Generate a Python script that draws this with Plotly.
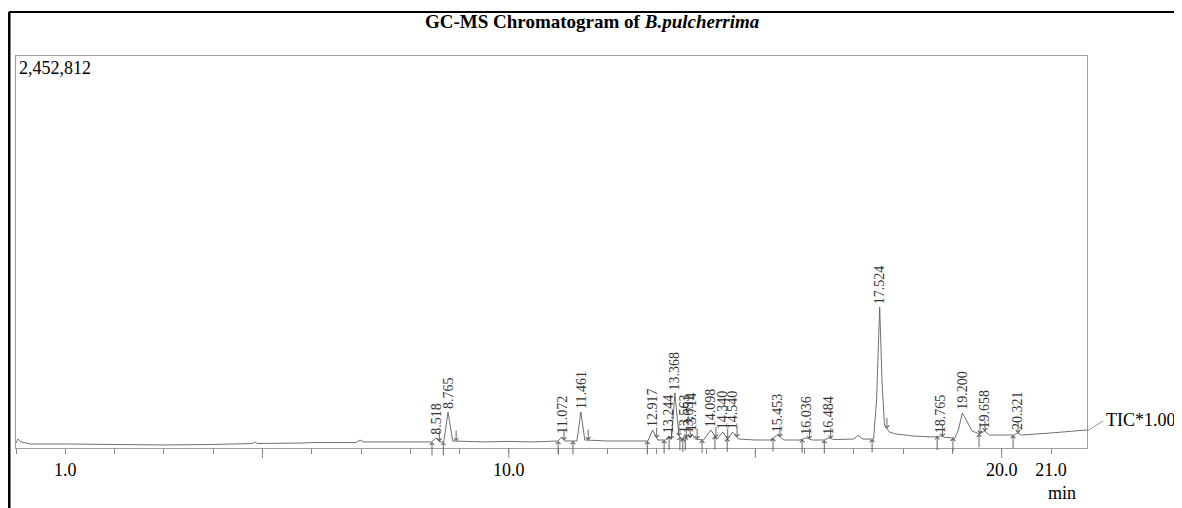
import numpy as np
import plotly.graph_objects as go

# ---------------- data ----------------
TIME = [0.00, 0.04, 0.10, 0.30, 1.0, 2.0, 3.0, 4.0, 4.80, 4.85, 4.90, 5.8, 6.0, 6.9, 6.98, 7.05,
        8.0, 8.44, 8.52, 8.60, 8.68, 8.765, 8.86, 9.5, 10.0, 10.5, 11.0, 11.07, 11.13, 11.38,
        11.461, 11.54, 12.0, 12.5, 12.82, 12.917, 13.02, 13.18, 13.244, 13.30, 13.368, 13.45,
        13.52, 13.563, 13.61, 13.651, 13.68, 13.714, 13.78, 13.95, 14.098, 14.22, 14.34, 14.44,
        14.54, 14.66, 15.0, 15.3, 15.453, 15.58, 15.9, 16.036, 16.15, 16.40, 16.484, 16.60,
        17.0, 17.08, 17.18, 17.40, 17.46, 17.524, 17.57, 17.62, 17.72, 17.85, 18.2, 18.6,
        18.765, 18.85, 19.05, 19.12, 19.20, 19.28, 19.40, 19.55, 19.658, 19.75, 20.0, 20.25,
        20.321, 20.40, 21.0, 21.73]
INTENSITY = [31000, 56000, 38000, 25000, 25000, 22000, 19000, 22000, 28000, 38000, 28000, 31000,
             34000, 34000, 50000, 38000, 38000, 38000, 63000, 38000, 38000, 225000, 44000, 38000,
             41000, 38000, 44000, 69000, 44000, 44000, 225000, 50000, 44000, 44000, 44000, 113000,
             50000, 50000, 75000, 56000, 344000, 75000, 56000, 75000, 63000, 75000, 63000, 88000,
             56000, 50000, 113000, 56000, 100000, 56000, 100000, 56000, 50000, 50000, 81000, 50000,
             50000, 63000, 50000, 50000, 63000, 53000, 56000, 80000, 56000, 56000, 300000, 882000,
             425000, 144000, 100000, 88000, 75000, 69000, 75000, 66000, 63000, 113000, 219000,
             175000, 106000, 88000, 106000, 81000, 81000, 81000, 94000, 81000, 94000, 113000]

PEAK_RT = [8.518, 8.765, 11.072, 11.461, 12.917, 13.244, 13.368, 13.563, 13.651, 13.714,
           14.098, 14.340, 14.540, 15.453, 16.036, 16.484, 17.524, 18.765, 19.200, 19.658, 20.321]
PEAK_LABEL = ["8.518", "8.765", "11.072", "11.461", "12.917", "13.244", "13.368", "13.563",
              "13.651", "13.714", "14.098", "14.340", "14.540", "15.453", "16.036", "16.484",
              "17.524", "18.765", "19.200", "19.658", "20.321"]
PEAK_START = [8.44, 8.67, 11.00, 11.30, 12.81, 13.15, 13.25, 13.47, 13.53, 13.58,
              13.92, 14.18, 14.43, 15.36, 15.95, 16.40, 17.37, 18.69, 19.01, 19.54, 20.23]
PEAK_END = [8.59, 8.93, 11.12, 11.61, 13.00, 13.30, 13.45, 13.60, 13.68, 13.82,
            14.20, 14.44, 14.63, 15.50, 16.10, 16.53, 17.67, 18.80, 19.56, 19.66, 20.33]

Y_MAX = 2452812
X_RANGE = [0.0, 21.73]
TICK_VALS = [1, 5, 10, 15, 20, 21]
TICK_TEXT = ["1.0", "", "10.0", "", "20.0", "21.0"]
LONG_TICKS = [5, 10, 15, 20]

FONT = "Liberation Serif"

# ---------------- figure ----------------
OFF = 8                      # page body margin of the html page
W, H = 1182 - OFF, 508 - OFF
ML, MR, MT, MB = 16 - OFF, 95, 56 - OFF, 60
PW, PH = W - ML - MR, H - MT - MB


def px(xp):  # page pixel -> paper
    return (xp - OFF - ML) / PW


def py(yp):  # page pixel -> paper
    return (H - MB - (yp - OFF)) / PH


fig = go.Figure()
fig.add_trace(go.Scatter(x=TIME, y=INTENSITY, mode="lines",
                         line=dict(color="#606060", width=0.9), hoverinfo="skip",
                         showlegend=False))

ann = []
tip = np.interp(PEAK_RT, TIME, INTENSITY)
for rt, lab, h in zip(PEAK_RT, PEAK_LABEL, tip):
    ann.append(dict(x=rt, y=h, xref="x", yref="y", text=lab, showarrow=False,
                    textangle=-90, xanchor="center", yanchor="bottom", yshift=1,
                    font=dict(family=FONT, size=14, color="#333333")))

start_y = np.interp(PEAK_START, TIME, INTENSITY)
for xs, ys in zip(PEAK_START, start_y):
    ann.append(dict(x=xs, y=ys, xref="x", yref="y", text="", showarrow=True,
                    ax=0, ay=15, arrowhead=4, arrowsize=1, arrowwidth=0.9,
                    arrowcolor="#555555"))
end_y = np.interp(PEAK_END, TIME, INTENSITY)
for xe, ye in zip(PEAK_END, end_y):
    ann.append(dict(x=xe, y=ye, xref="x", yref="y", text="", showarrow=True,
                    ax=0, ay=-12, arrowhead=4, arrowsize=1, arrowwidth=0.9,
                    arrowcolor="#555555"))

# text labels
ann.append(dict(x=px(17), y=py(68), xref="paper", yref="paper", text=f"{Y_MAX:,}",
                showarrow=False, xanchor="left", yanchor="middle",
                font=dict(family=FONT, size=18, color="black")))
ann.append(dict(x=px(1104), y=py(420), xref="paper", yref="paper", text="TIC*1.00",
                showarrow=False, xanchor="left", yanchor="middle",
                font=dict(family=FONT, size=18, color="black")))
ann.append(dict(x=px(1062), y=py(493), xref="paper", yref="paper", text="min",
                showarrow=False, xanchor="center", yanchor="middle",
                font=dict(family=FONT, size=18, color="black")))
ann.append(dict(x=px(592), y=py(21), xref="paper", yref="paper",
                text="<b>GC-MS Chromatogram of <i>B.pulcherrima</i></b>",
                showarrow=False, xanchor="center", yanchor="middle",
                font=dict(family=FONT, size=19, color="black")))

shapes = []
for t in LONG_TICKS:
    shapes.append(dict(type="line", xref="x", yref="paper", x0=t, x1=t,
                       y0=0, y1=-10 / PH, line=dict(color="#888888", width=1)))
# leader line for TIC label
shapes.append(dict(type="line", xref="paper", yref="paper", x0=px(1087), y0=py(431),
                   x1=px(1103), y1=py(421), line=dict(color="#777777", width=0.8)))
# page frame lines
shapes.append(dict(type="line", xref="paper", yref="paper", x0=px(9), x1=px(1182),
                   y0=py(12), y1=py(12), line=dict(color="black", width=2)))
shapes.append(dict(type="line", xref="paper", yref="paper", x0=px(9), x1=px(9),
                   y0=py(12), y1=py(508), line=dict(color="black", width=3)))

fig.update_layout(
    width=W, height=H,
    margin=dict(l=ML, r=MR, t=MT, b=MB, pad=0),
    paper_bgcolor="white", plot_bgcolor="white",
    showlegend=False,
    annotations=ann, shapes=shapes,
    xaxis=dict(range=X_RANGE, showgrid=False, zeroline=False,
               showline=True, mirror=True, linecolor="#a0a0a0", linewidth=1,
               ticks="outside", ticklen=5, tickcolor="#888888",
               tickvals=TICK_VALS, ticktext=TICK_TEXT,
               tickfont=dict(family=FONT, size=18, color="black"),
               minor=dict(dtick=1, ticks="outside", ticklen=5, tickcolor="#888888")),
    yaxis=dict(range=[0, Y_MAX], showgrid=False, zeroline=False,
               showline=True, mirror=True, linecolor="#a0a0a0", linewidth=1,
               showticklabels=False, ticks=""),
)

fig.write_html("out.html")
